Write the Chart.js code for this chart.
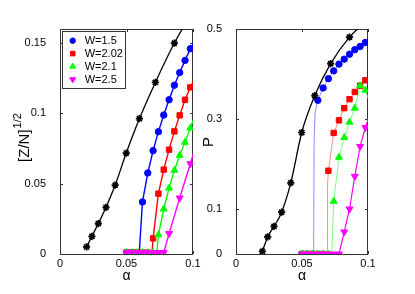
<!DOCTYPE html>
<html>
<head>
<meta charset="utf-8">
<script src="https://cdn.jsdelivr.net/npm/chart.js@4.4.0/dist/chart.umd.min.js"></script>
<style>
  body { margin: 0; background: #fff; width: 415px; height: 294px; overflow: hidden; position: relative; }
  canvas { position: absolute; top: 0; }
  #leftChart { left: 0; }
  #rightChart { left: 200px; }
</style>
</head>
<body>
<canvas id="leftChart" width="207" height="294"></canvas>
<canvas id="rightChart" width="215" height="294"></canvas>
<script>
const FONT = "'Liberation Sans', Arial, Helvetica, sans-serif";

/* data */
const legendLabels = ['W=1.5', 'W=2.02', 'W=2.1', 'W=2.5'];

const alphaBlack = [0.02, 0.024, 0.0288, 0.0346, 0.0415, 0.0498, 0.0597, 0.0717, 0.086, 0.1032];
const zBlack = [0.005, 0.0126, 0.0216, 0.0332, 0.049, 0.0718, 0.0962, 0.122, 0.150, 0.178];
const pBlack = [0.006, 0.038, 0.0615, 0.093, 0.158, 0.270, 0.352, 0.423, 0.482, 0.528];

const alphaW = [0.05, 0.054, 0.058, 0.062, 0.066, 0.07, 0.074, 0.078, 0.082, 0.086, 0.09, 0.094, 0.098];
const alphaMagL = [0.05, 0.054, 0.058, 0.062, 0.066, 0.07, 0.074, 0.078, 0.082, 0.09, 0.098];

// left panel, [Z/N]^(1/2)
const zBlue = [0.001, 0.001, 0.001, 0.037, 0.0576, 0.0735, 0.087, 0.0988, 0.1097, 0.12, 0.129, 0.1377, 0.146];
const zRed = [0.001, 0.001, 0.001, 0.001, 0.001, 0.0111, 0.0429, 0.060, 0.0742, 0.0872, 0.0986, 0.1097, 0.1185];
const zGreen = [0.001, 0.001, 0.001, 0.001, 0.001, 0.001, 0.0137, 0.032, 0.0469, 0.0595, 0.0702, 0.0794, 0.0896];
const zMagenta = [0.001, 0.001, 0.001, 0.001, 0.001, 0.001, 0.001, 0.001, 0.0145, 0.0398, 0.0642];
// extra line points (the jumps and the run out of the frame)
const zBlueEx = { x: [0.0596, 0.102], y: [0.001, 0.153] };
const zRedEx = { x: [0.0692, 0.102], y: [0.001, 0.126] };
const zGreenEx = { x: [0.0728, 0.102], y: [0.001, 0.100] };
const zMagentaEx = { x: [0.102], y: [0.0764] };

// right panel, P
const pBlue = [0, 0, 0, 0.3415, 0.369, 0.3896, 0.407, 0.422, 0.433, 0.444, 0.454, 0.461, 0.470];
const pRed = [0, 0, 0, 0, 0, 0.185, 0.269, 0.297, 0.324, 0.344, 0.360, 0.374, 0.386];
const pGreen = [0, 0, 0, 0, 0, 0, 0.117, 0.215, 0.259, 0.293, 0.324, 0.374, 0.364];
const pMagenta = [0, 0, 0, 0, 0, 0, 0, 0, 0.049, 0.100, 0.1726, 0.239, 0.281];
const pBlueEx = { x: [0.0588, 0.0592, 0.06, 0.102], y: [0, 0.26, 0.315, 0.476] };
const pRedEx = { x: [0.069, 0.0693, 0.102], y: [0, 0.15, 0.394] };
const pGreenEx = { x: [0.0726, 0.102], y: [0, 0.33] };
const pMagentaEx = { x: [0.102], y: [0.316] };

const xTicks = [0, 0.05, 0.1];
const xTickLabels = ['0', '0.05', '0.1'];
const yTicksL = [0, 0.05, 0.1, 0.15];
const yTickLabelsL = ['0', '0.05', '0.1', '0.15'];
const yTicksR = [0, 0.1, 0.3, 0.5];
const yTickLabelsR = ['0', '0.1', '0.3', '0.5'];

/* styles */
const seriesStyles = [
    { color: '#0000ff', shape: 'circle', r: 3.2, rot: 0 },
    { color: '#ff0000', shape: 'rect', r: 3.8, rot: 0 },
    { color: '#00ff00', shape: 'triangle', r: 4, rot: 0 },
    { color: '#ff00ff', shape: 'triangle', r: 4, rot: 180 }
];
const paleLines = ['rgba(110,110,255,0.8)', 'rgba(255,110,110,0.8)', 'rgba(110,255,110,0.9)', '#ff00ff'];

function pts(xs, ys) {
    return xs.map((x, i) => ({ x: x, y: ys[i] }));
}
function lineOf(xs, ys, ex) {
    return pts(xs, ys).concat(pts(ex.x, ex.y)).sort((a, b) => a.x - b.x);
}

function markerSet(i, xs, ys) {
    const st = seriesStyles[i];
    return {
        data: pts(xs, ys), showLine: false, order: 4 - i,
        pointStyle: st.shape, pointRadius: st.r, pointRotation: st.rot,
        backgroundColor: st.color, borderColor: st.color, pointBorderWidth: 1, pointHoverRadius: st.r
    };
}
function lineSet(data, color, width, order) {
    return {
        data: data, showLine: true, order: order, borderColor: color, borderWidth: width,
        pointRadius: 0, pointHoverRadius: 0, tension: 0
    };
}
function blackSets(ys) {
    return [
        {
            data: pts(alphaBlack, ys), showLine: true, order: 0, borderColor: '#000', borderWidth: 1.3,
            cubicInterpolationMode: 'monotone', pointStyle: 'star', pointRadius: 3.6,
            pointBorderWidth: 1.7, pointBorderColor: '#000', pointBackgroundColor: '#000'
        }
    ];
}

/* frame with inward ticks on all four sides, MATLAB style */
const framePlugin = {
    id: 'frame',
    beforeDatasetsDraw(chart) {
        const ctx = chart.ctx, a = chart.chartArea;
        const xs = chart.scales.x, ys = chart.scales.y;
        ctx.save();
        ctx.strokeStyle = '#333';
        ctx.lineWidth = 1;
        ctx.strokeRect(Math.round(a.left) + 0.5, Math.round(a.top) + 0.5,
            Math.round(a.right - a.left) - 1, Math.round(a.bottom - a.top));
        ctx.beginPath();
        xs.ticks.forEach(t => {
            const px = Math.round(xs.getPixelForValue(t.value)) + 0.5;
            ctx.moveTo(px, a.bottom); ctx.lineTo(px, a.bottom - 3);
            ctx.moveTo(px, a.top); ctx.lineTo(px, a.top + 3);
        });
        ys.ticks.forEach(t => {
            const py = Math.round(ys.getPixelForValue(t.value)) + 0.5;
            ctx.moveTo(a.left, py); ctx.lineTo(a.left + 3, py);
            ctx.moveTo(a.right, py); ctx.lineTo(a.right - 3, py);
        });
        ctx.stroke();
        ctx.restore();
    }
};

/* axis titles */
const titlePlugin = {
    id: 'titles',
    afterDraw(chart, args, opts) {
        const ctx = chart.ctx, a = chart.chartArea;
        ctx.save();
        ctx.fillStyle = '#000';
        ctx.textAlign = 'center';
        ctx.textBaseline = 'middle';
        ctx.font = '14px ' + FONT;
        ctx.fillText('α', (a.left + a.right) / 2, 276);
        ctx.translate(opts.yx, opts.yy);
        ctx.rotate(-Math.PI / 2);
        ctx.font = '15px ' + FONT;
        const mainW = ctx.measureText(opts.main).width;
        let supW = 0;
        if (opts.sup) {
            ctx.font = '11px ' + FONT;
            supW = ctx.measureText(opts.sup).width;
        }
        const start = -(mainW + supW) / 2;
        ctx.textAlign = 'left';
        ctx.font = '15px ' + FONT;
        ctx.fillText(opts.main, start, 0);
        if (opts.sup) {
            ctx.font = '11px ' + FONT;
            ctx.fillText(opts.sup, start + mainW + 1, -7);
        }
        ctx.restore();
    }
};

/* legend drawn inside the left axes */
const legendPlugin = {
    id: 'insideLegend',
    afterDraw(chart) {
        const ctx = chart.ctx, a = chart.chartArea;
        const x0 = Math.round(a.left) + 2, y0 = Math.round(a.top) + 2, w = 63, h = 57;
        ctx.save();
        ctx.fillStyle = '#fff';
        ctx.fillRect(x0, y0, w, h);
        ctx.strokeStyle = '#333';
        ctx.lineWidth = 1;
        ctx.strokeRect(x0 + 0.5, y0 + 0.5, w, h);
        ctx.font = '11px ' + FONT;
        ctx.textBaseline = 'middle';
        ctx.textAlign = 'left';
        legendLabels.forEach((lab, i) => {
            const y = y0 + 9.7 + i * 12.9;
            const st = seriesStyles[i];
            ctx.fillStyle = st.color;
            ctx.strokeStyle = st.color;
            Chart.helpers.drawPoint(ctx, { pointStyle: st.shape, radius: st.r * 0.85, rotation: st.rot, borderWidth: 1 }, x0 + 10.7, y);
            ctx.fillStyle = '#000';
            ctx.fillText(lab, x0 + 22.7, y + 0.5);
        });
        ctx.restore();
    }
};

function scalesFor(yMax, yTicks, yLabels, yWidth) {
    return {
        x: {
            type: 'linear', min: 0, max: 0.1,
            afterBuildTicks: s => { s.ticks = xTicks.map(v => ({ value: v })); },
            afterFit: s => { s.height = 40; },
            ticks: {
                callback: (v, i) => xTickLabels[i], color: '#000', padding: 3,
                maxRotation: 0, autoSkip: false, font: { family: FONT, size: 11 }
            },
            grid: { display: false, drawTicks: false }, border: { display: false }
        },
        y: {
            type: 'linear', min: 0, max: yMax,
            afterBuildTicks: s => { s.ticks = yTicks.map(v => ({ value: v })); },
            afterFit: s => { s.width = yWidth; },
            ticks: {
                callback: (v, i) => yLabels[i], color: '#000', padding: 6,
                autoSkip: false, font: { family: FONT, size: 11 }
            },
            grid: { display: false }, border: { display: false }
        }
    };
}

const commonPlugins = { legend: { display: false }, tooltip: { enabled: false } };

/* left panel */
new Chart(document.getElementById('leftChart'), {
    type: 'scatter',
    data: {
        datasets: blackSets(zBlack).concat([
            lineSet(lineOf(alphaW, zBlue, zBlueEx), '#0000ff', 1.4, 14),
            lineSet(lineOf(alphaW, zRed, zRedEx), '#ff0000', 1.4, 13),
            lineSet(lineOf(alphaW, zGreen, zGreenEx), '#00ff00', 1.4, 12),
            lineSet(lineOf(alphaMagL, zMagenta, zMagentaEx), '#ff00ff', 1.4, 11),
            markerSet(0, alphaW, zBlue),
            markerSet(1, alphaW, zRed),
            markerSet(2, alphaW, zGreen),
            markerSet(3, alphaMagL, zMagenta)
        ])
    },
    options: {
        responsive: false, animation: false, devicePixelRatio: 1,
        layout: { padding: { left: 0, top: 29, right: 14, bottom: 0 } },
        scales: scalesFor(0.16, yTicksL, yTickLabelsL, 60),
        plugins: Object.assign({ titles: { main: '[Z/N]', sup: '1/2', yx: 25, yy: 138 } }, commonPlugins)
    },
    plugins: [framePlugin, titlePlugin, legendPlugin]
});

/* right panel */
new Chart(document.getElementById('rightChart'), {
    type: 'scatter',
    data: {
        datasets: blackSets(pBlack).concat([
            lineSet(lineOf(alphaW, pBlue, pBlueEx), paleLines[0], 1, 14),
            lineSet(lineOf(alphaW, pRed, pRedEx), paleLines[1], 1, 13),
            lineSet(lineOf(alphaW, pGreen, pGreenEx), paleLines[2], 1, 12),
            lineSet(lineOf(alphaW, pMagenta, pMagentaEx), paleLines[3], 1.2, 11),
            markerSet(0, alphaW, pBlue),
            markerSet(1, alphaW, pRed),
            markerSet(2, alphaW, pGreen),
            markerSet(3, alphaW, pMagenta)
        ])
    },
    options: {
        responsive: false, animation: false, devicePixelRatio: 1,
        layout: { padding: { left: 0, top: 29, right: 47, bottom: 0 } },
        scales: scalesFor(0.5, yTicksR, yTickLabelsR, 36),
        plugins: Object.assign({ titles: { main: 'P', sup: '', yx: 9, yy: 142 } }, commonPlugins)
    },
    plugins: [framePlugin, titlePlugin]
});
</script>
</body>
</html>
